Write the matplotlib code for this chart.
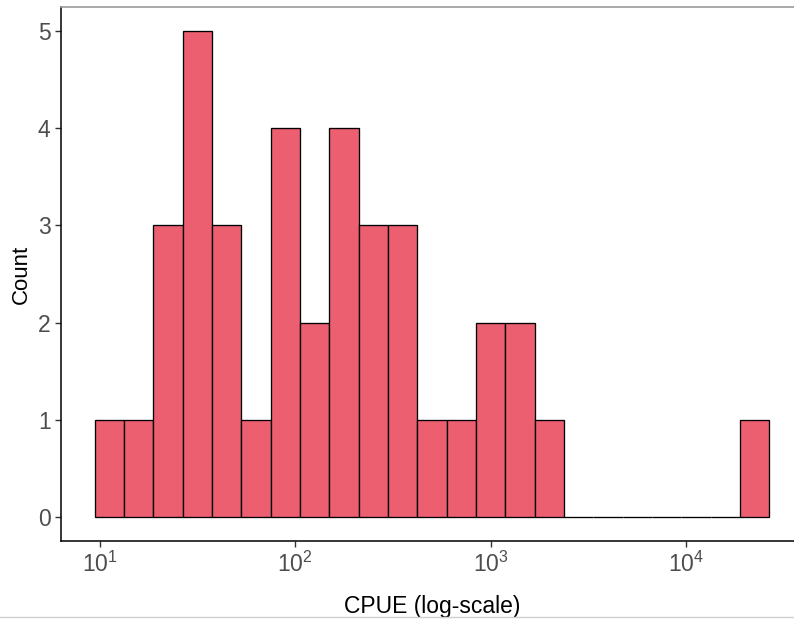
import matplotlib as mpl
mpl.use("Agg")
import matplotlib.pyplot as plt
from matplotlib.lines import Line2D
import numpy as np

mpl.rcParams.update({
    "font.family": "Liberation Sans", "mathtext.fontset": "custom",
    "mathtext.rm": "Liberation Sans", "mathtext.it": "Liberation Sans",
    "mathtext.default": "regular",
})

# histogram of CPUE on log10 scale: 23 bins
log_lo, log_hi = 0.974, 4.4265
counts = [1, 1, 3, 5, 3, 1, 4, 2, 4, 3, 3, 1, 1, 2, 2, 1, 0, 0, 0, 0, 0, 0, 1]
xticks = [10, 100, 1000, 10000]
xticklabels = ["$10^{1}$", "$10^{2}$", "$10^{3}$", "$10^{4}$"]
yticks = [0, 1, 2, 3, 4, 5]

FILL = "#EB5F70"
TXT = "#4D4D4D"

edges = 10 ** np.linspace(log_lo, log_hi, len(counts) + 1)

fig = plt.figure(figsize=(7.94, 6.19), dpi=100)
W, H = 794, 619
ax = fig.add_axes([61 / W, 78 / H, (803 - 61) / W, (541 - 7) / H])
ax.bar(edges[:-1], counts, width=np.diff(edges), align="edge", color=FILL,
       edgecolor="black", linewidth=0.95, zorder=3)
ax.set_xscale("log")
span = log_hi - log_lo
ax.set_xlim(10 ** (log_lo - 0.05 * span), 10 ** (log_hi + 0.05 * span))
ax.set_ylim(-0.25, 5.25)
ax.set_xticks(xticks)
ax.set_xticklabels(xticklabels)
ax.xaxis.set_minor_locator(mpl.ticker.NullLocator())
ax.set_yticks(yticks)
for s in ("top", "right"):
    ax.spines[s].set_visible(False)
for s in ("left", "bottom"):
    ax.spines[s].set_linewidth(1.1)
ax.tick_params(axis="both", length=4, width=1.0, color="#333333",
               labelsize=16.5, labelcolor=TXT, pad=3.5)
ax.set_xlabel("CPUE (log-scale)", fontsize=16.5, color="black", labelpad=13)
ax.set_ylabel("Count", fontsize=16, color="black", labelpad=4)

# screenshot border lines
fig.add_artist(Line2D([61 / W, 1], [1 - 7 / H, 1 - 7 / H], color="#9a9a9a",
                      lw=1.2, transform=fig.transFigure))
fig.add_artist(Line2D([0, 1], [1 - 617 / H, 1 - 617 / H], color="#d0d0d0",
                      lw=1.0, transform=fig.transFigure))

fig.savefig("out.png", dpi=100)
